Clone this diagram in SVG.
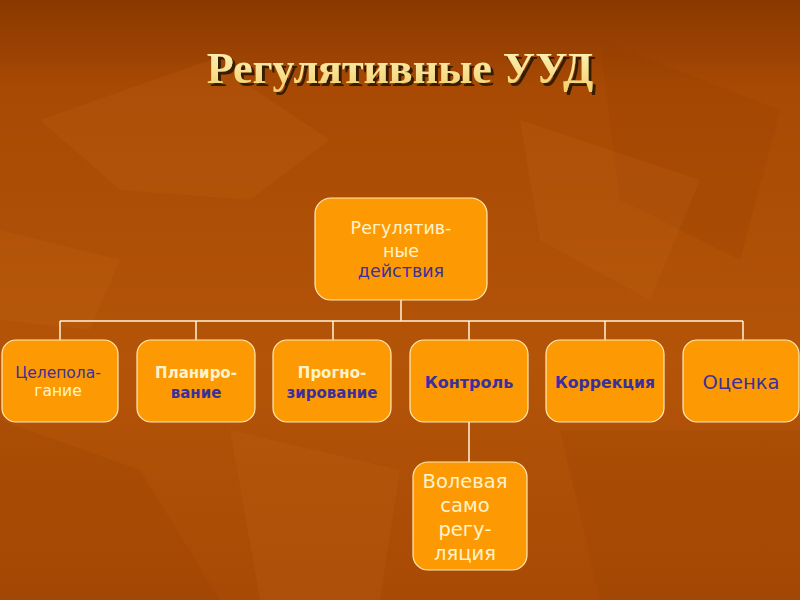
<svg xmlns="http://www.w3.org/2000/svg" width="800" height="600" viewBox="0 0 800 600">
<defs>
<linearGradient id="bg" x1="0" y1="0" x2="0" y2="1">
<stop offset="0" stop-color="#8a3800"/>
<stop offset="0.15" stop-color="#a84a04"/>
<stop offset="0.6" stop-color="#b35408"/>
<stop offset="1" stop-color="#a84a05"/>
</linearGradient>
<linearGradient id="tt" x1="0" y1="0" x2="0" y2="1">
<stop offset="0" stop-color="#fff6c0"/>
<stop offset="1" stop-color="#f2cf6a"/>
</linearGradient>
<filter id="sh" x="-10%" y="-30%" width="120%" height="160%">
<feDropShadow dx="3" dy="3" stdDeviation="0.6" flood-color="#2e1200" flood-opacity="0.9"/>
</filter>
<style>
.box{fill:#fd9a03;stroke:#ffe9b8;stroke-width:1.2}
.t{font-family:"DejaVu Sans",Verdana,sans-serif;text-anchor:middle}
.c{fill:#fff3cc}
.b{fill:#3b2f9e}
.line{stroke:#fff3d8;stroke-width:1.5;fill:none}
.leaf{fill:#c86a1a;opacity:0.18}
.leafd{fill:#8e3c02;opacity:0.18}
</style>
</defs>
<rect width="800" height="600" fill="url(#bg)"/>
<g id="bgleaves">
<path class="leaf" d="M40 120 L210 60 L330 140 L250 200 L120 190 Z"/>
<path class="leafd" d="M600 40 L780 110 L740 260 L620 200 Z"/>
<path class="leaf" d="M520 120 L700 180 L650 300 L540 240 Z"/>
<path class="leafd" d="M0 420 L140 470 L220 600 L0 600 Z"/>
<path class="leaf" d="M230 430 L400 470 L380 600 L260 600 Z"/>
<path class="leafd" d="M560 430 L800 430 L800 600 L600 600 Z"/>
<path class="leaf" d="M0 230 L120 260 L90 330 L0 320 Z"/>
</g>
<g id="title">
<text x="400" y="83" font-family="'Liberation Serif','Times New Roman',serif" font-weight="bold" font-size="44" text-anchor="middle" fill="url(#tt)" filter="url(#sh)">Регулятивные УУД</text>
</g>
<g id="connectors">
<path class="line" d="M401 300 V321 M60 321 H743 M60 321 V340 M196 321 V340 M333 321 V340 M469 321 V340 M605 321 V340 M743 321 V340 M469 422 V462"/>
</g>
<g id="n-root">
<rect class="box" x="315" y="198" width="172" height="102" rx="16"/>
<text class="t c" x="401" y="234" style="font-size:17.5px">Регулятив-</text>
<text class="t c" x="401" y="257" style="font-size:17.5px">ные</text>
<text class="t b" x="401" y="277" style="font-size:17.5px">действия</text>
</g>
<g id="n-celepol">
<rect class="box" x="2" y="340" width="116" height="82" rx="14"/>
<text class="t b" x="58" y="378" style="font-size:15.5px">Целепола-</text>
<text class="t c" x="58" y="396" style="font-size:15.5px">гание</text>
</g>
<g id="n-plan">
<rect class="box" x="137" y="340" width="118" height="82" rx="14"/>
<text class="t c" x="196" y="378" style="font-size:15px;font-weight:bold">Планиро-</text>
<text class="t b" x="196" y="398" style="font-size:15px;font-weight:bold">вание</text>
</g>
<g id="n-prog">
<rect class="box" x="273" y="340" width="118" height="82" rx="14"/>
<text class="t c" x="332" y="378" style="font-size:15px;font-weight:bold">Прогно-</text>
<text class="t b" x="332" y="398" style="font-size:15px;font-weight:bold">зирование</text>
</g>
<g id="n-kontrol">
<rect class="box" x="410" y="340" width="118" height="82" rx="14"/>
<text class="t b" x="469" y="388" style="font-size:16px;font-weight:bold">Контроль</text>
</g>
<g id="n-korr">
<rect class="box" x="546" y="340" width="118" height="82" rx="14"/>
<text class="t b" x="605" y="388" style="font-size:15.7px;font-weight:bold">Коррекция</text>
</g>
<g id="n-ocenka">
<rect class="box" x="683" y="340" width="116" height="82" rx="14"/>
<text class="t b" x="741" y="389" style="font-size:19.5px">Оценка</text>
</g>
<g id="n-volev">
<rect class="box" x="413" y="462" width="114" height="108" rx="15"/>
<text class="t c" x="465" y="488" style="font-size:19.5px">Волевая</text>
<text class="t c" x="465" y="512" style="font-size:19.5px">само</text>
<text class="t c" x="465" y="536" style="font-size:19.5px">регу-</text>
<text class="t c" x="465" y="560" style="font-size:19.5px">ляция</text>
</g>
</svg>
